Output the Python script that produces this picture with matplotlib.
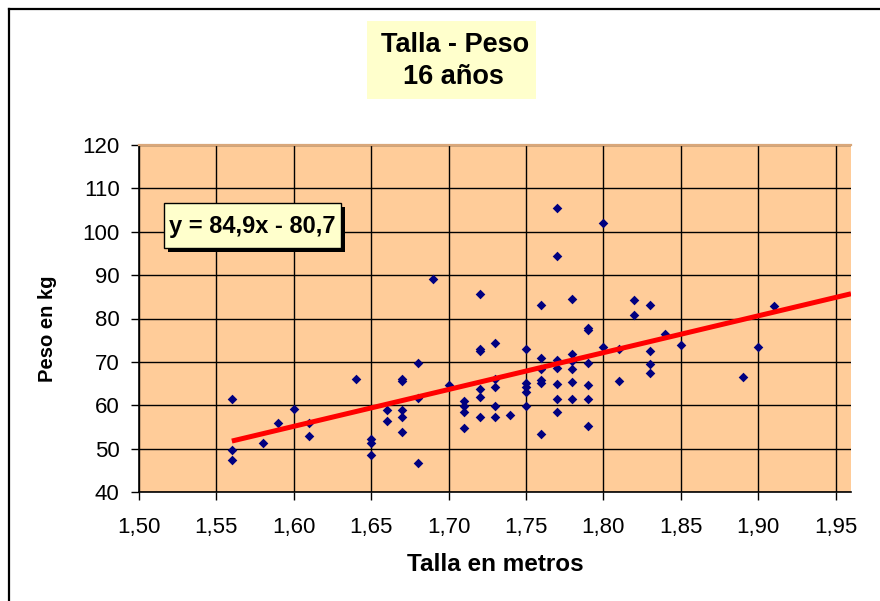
import numpy as np
import matplotlib
matplotlib.use('Agg')
import matplotlib.pyplot as plt
from matplotlib.patches import Rectangle
from matplotlib.lines import Line2D
from matplotlib.ticker import FuncFormatter

plt.rcParams['font.family'] = ['Liberation Sans', 'DejaVu Sans']

### Data ###
talla = [1.56, 1.56, 1.56, 1.58, 1.59, 1.60, 1.61, 1.61, 1.64,
         1.65, 1.65, 1.65, 1.66, 1.66,
         1.67, 1.67, 1.67, 1.67, 1.67,
         1.68, 1.68, 1.68, 1.69, 1.70,
         1.71, 1.71, 1.71, 1.71,
         1.72, 1.72, 1.72, 1.72, 1.72, 1.72,
         1.73, 1.73, 1.73, 1.73, 1.73, 1.74,
         1.75, 1.75, 1.75, 1.75, 1.75,
         1.76, 1.76, 1.76, 1.76, 1.76, 1.76,
         1.77, 1.77, 1.77, 1.77, 1.77, 1.77, 1.77,
         1.78, 1.78, 1.78, 1.78, 1.78, 1.78,
         1.79, 1.79, 1.79, 1.79, 1.79, 1.79,
         1.80, 1.80, 1.81, 1.81, 1.82, 1.82,
         1.83, 1.83, 1.83, 1.83, 1.84, 1.85, 1.89, 1.90, 1.91]
peso = [61.5, 49.6, 47.4, 51.3, 56.0, 59.2, 56.0, 53.0, 66.0,
        52.3, 51.3, 48.5, 58.9, 56.4,
        66.0, 65.5, 58.9, 57.4, 53.9,
        69.8, 61.6, 46.8, 89.0, 64.7,
        61.0, 59.9, 58.4, 54.7,
        85.6, 72.9, 72.5, 63.7, 61.9, 57.4,
        74.3, 66.0, 64.3, 59.9, 57.4, 57.8,
        72.9, 65.1, 64.3, 63.0, 59.9,
        83.1, 70.8, 68.3, 65.9, 65.1, 53.3,
        105.5, 94.5, 70.5, 68.7, 64.9, 61.5, 58.4,
        84.5, 71.9, 70.1, 68.3, 65.3, 61.5,
        77.8, 77.4, 69.8, 64.6, 61.5, 55.3,
        102.1, 73.5, 72.9, 65.7, 84.2, 80.8,
        83.2, 72.6, 69.5, 67.4, 76.4, 73.9, 66.4, 73.5, 82.9]

# linear trendline as printed on the chart
pendiente = 84.9
ordenada = -80.7

xticks = np.arange(1.50, 1.951, 0.05)
yticks = np.arange(40, 121, 10)

### Plotting ###
fig = plt.figure(figsize=(8.8, 6.01), dpi=100)
W, H = 880, 601

ax = fig.add_axes([139 / W, 1 - 492 / H, (851 - 139) / W, (492 - 145) / H])
ax.set_facecolor('#FFCC99')

ax.scatter(talla, peso, marker='D', s=24, color='#000080', zorder=3, linewidths=0)

xmin, xmax = 1.50, 1.96
xt = np.array([min(talla), xmax])
ax.plot(xt, pendiente * xt + ordenada, color='#FF0000', lw=3.6, zorder=4,
        solid_capstyle='butt')

ax.set_xlim(xmin, xmax)
ax.set_ylim(40, 120)
ax.set_xticks(xticks)
ax.set_yticks(yticks)
ax.xaxis.set_major_formatter(FuncFormatter(lambda v, p: '{:.2f}'.format(v).replace('.', ',')))
ax.grid(True, color='black', lw=1.0)
ax.set_axisbelow(True)
ax.tick_params(axis='both', direction='out', length=6, width=1, color='black',
               labelsize=16)
ax.tick_params(axis='x', pad=12)
ax.tick_params(axis='y', pad=8)

for s in ['left', 'bottom']:
    ax.spines[s].set_color('black')
    ax.spines[s].set_linewidth(1.2)
ax.spines['right'].set_visible(False)
ax.spines['top'].set_color('#D9A77A')
ax.spines['top'].set_linewidth(1.6)
ax.spines['top'].set_zorder(5)

ax.set_xlabel('Talla en metros', fontsize=17.5, fontweight='bold', va='center')
ax.xaxis.set_label_coords(0.501, -0.21)
ax.set_ylabel('Peso en kg', fontsize=14.5, fontweight='bold', va='center')
ax.yaxis.set_label_coords(-0.128, 0.47)

# outer chart border (left and top edges visible)
fig.add_artist(Line2D([9 / W, 9 / W], [0, 1 - 9 / H], transform=fig.transFigure,
                      color='black', lw=1.6))
fig.add_artist(Line2D([9 / W, 1], [1 - 9 / H, 1 - 9 / H], transform=fig.transFigure,
                      color='black', lw=1.6))

# title box
fig.add_artist(Rectangle((367 / W, 1 - 99 / H), (536 - 367) / W, (99 - 21) / H,
                         transform=fig.transFigure, facecolor='#FFFFCC',
                         edgecolor='none'))
fig.text(455 / W, 1 - 52 / H, 'Talla - Peso', ha='center', va='baseline',
         fontsize=19.5, fontweight='bold')
fig.text(453 / W, 1 - 84 / H, '16 años', ha='center', va='baseline',
         fontsize=19.5, fontweight='bold')

# equation label with shadow
fig.add_artist(Rectangle((168 / W, 1 - 252 / H), (341 - 164) / W, (248 - 203) / H,
                         transform=fig.transFigure, facecolor='black',
                         edgecolor='none', zorder=6))
fig.add_artist(Rectangle((164 / W, 1 - 248 / H), (341 - 164) / W, (248 - 203) / H,
                         transform=fig.transFigure, facecolor='#FFFFCC',
                         edgecolor='black', lw=1, zorder=7))
fig.text(252 / W, 1 - 226 / H, 'y = 84,9x - 80,7', ha='center', va='center',
         fontsize=17, fontweight='bold', zorder=8)

fig.savefig('out.png', dpi=100)
